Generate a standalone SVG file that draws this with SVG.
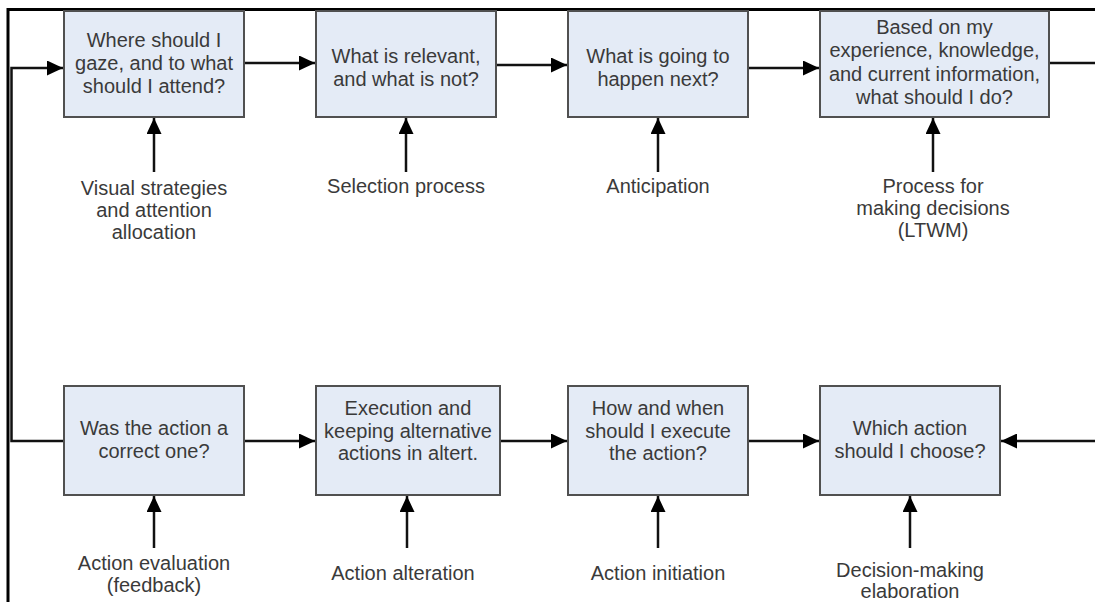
<svg xmlns="http://www.w3.org/2000/svg" width="1095" height="602" viewBox="0 0 1095 602">
<style>
.box{fill:#E4EBF6;stroke:#505050;stroke-width:2}
.t{font-family:"Liberation Sans",Arial,sans-serif;font-size:20px;fill:#3a3a3a;text-anchor:middle}
.c{fill:none;stroke:#111;stroke-width:2.5}
.frame{fill:none;stroke:#000;stroke-width:3}
</style>
<defs>
<marker id="ah" markerUnits="userSpaceOnUse" markerWidth="17" markerHeight="15" refX="16" refY="7.5" orient="auto">
<path d="M0,0 L16,7.5 L0,15 Z" fill="#000"/>
</marker>
</defs>
<rect width="1095" height="602" fill="#fff"/>
<path class="frame" d="M8,602 V9.5 H1095"/>

<g id="connectors">
<path class="c" d="M64,441 H11.5 V68 H63" marker-end="url(#ah)"/>
<path class="c" d="M244,63 H315" marker-end="url(#ah)"/>
<path class="c" d="M496,65 H567" marker-end="url(#ah)"/>
<path class="c" d="M748,68 H819" marker-end="url(#ah)"/>
<path class="c" d="M1049,63 H1095"/>
<path class="c" d="M244,441 H315" marker-end="url(#ah)"/>
<path class="c" d="M500,441 H567" marker-end="url(#ah)"/>
<path class="c" d="M748,441 H819" marker-end="url(#ah)"/>
<path class="c" d="M1095,441 H1001" marker-end="url(#ah)"/>
<path class="c" d="M154,172 V118" marker-end="url(#ah)"/>
<path class="c" d="M406,172 V118" marker-end="url(#ah)"/>
<path class="c" d="M658,172 V118" marker-end="url(#ah)"/>
<path class="c" d="M933,172 V118" marker-end="url(#ah)"/>
<path class="c" d="M154,548 V496" marker-end="url(#ah)"/>
<path class="c" d="M407,548 V496" marker-end="url(#ah)"/>
<path class="c" d="M658,548 V496" marker-end="url(#ah)"/>
<path class="c" d="M910,548 V496" marker-end="url(#ah)"/>
</g>

<g id="n1"><rect class="box" x="64" y="11" width="180" height="106"/>
<text class="t" x="154" y="47">Where should I</text><text class="t" x="154" y="70">gaze, and to what</text><text class="t" x="154" y="93">should I attend?</text></g>
<g id="n2"><rect class="box" x="316" y="11" width="180" height="106"/>
<text class="t" x="406" y="63">What is relevant,</text><text class="t" x="406" y="86">and what is not?</text></g>
<g id="n3"><rect class="box" x="568" y="11" width="180" height="106"/>
<text class="t" x="658" y="63">What is going to</text><text class="t" x="658" y="86">happen next?</text></g>
<g id="n4"><rect class="box" x="820" y="11" width="229" height="106"/>
<text class="t" x="934.5" y="34">Based on my</text><text class="t" x="934.5" y="57">experience, knowledge,</text><text class="t" x="934.5" y="81">and current information,</text><text class="t" x="934.5" y="104">what should I do?</text></g>

<g id="n5"><rect class="box" x="64" y="386" width="180" height="109"/>
<text class="t" x="154" y="435">Was the action a</text><text class="t" x="154" y="458">correct one?</text></g>
<g id="n6"><rect class="box" x="316" y="386" width="184" height="109"/>
<text class="t" x="408" y="415">Execution and</text><text class="t" x="408" y="438">keeping alternative</text><text class="t" x="408" y="460">actions in altert.</text></g>
<g id="n7"><rect class="box" x="568" y="386" width="180" height="109"/>
<text class="t" x="658" y="415">How and when</text><text class="t" x="658" y="438">should I execute</text><text class="t" x="658" y="460">the action?</text></g>
<g id="n8"><rect class="box" x="820" y="386" width="180" height="109"/>
<text class="t" x="910" y="435">Which action</text><text class="t" x="910" y="458">should I choose?</text></g>

<g id="l1"><text class="t" x="154" y="195">Visual strategies</text><text class="t" x="154" y="217">and attention</text><text class="t" x="154" y="239">allocation</text></g>
<g id="l2"><text class="t" x="406" y="193">Selection process</text></g>
<g id="l3"><text class="t" x="658" y="193">Anticipation</text></g>
<g id="l4"><text class="t" x="933" y="193">Process for</text><text class="t" x="933" y="215">making decisions</text><text class="t" x="933" y="237">(LTWM)</text></g>
<g id="l5"><text class="t" x="154" y="570">Action evaluation</text><text class="t" x="154" y="592">(feedback)</text></g>
<g id="l6"><text class="t" x="403" y="580">Action alteration</text></g>
<g id="l7"><text class="t" x="658" y="580">Action initiation</text></g>
<g id="l8"><text class="t" x="910" y="577">Decision-making</text><text class="t" x="910" y="598">elaboration</text></g>
</svg>
